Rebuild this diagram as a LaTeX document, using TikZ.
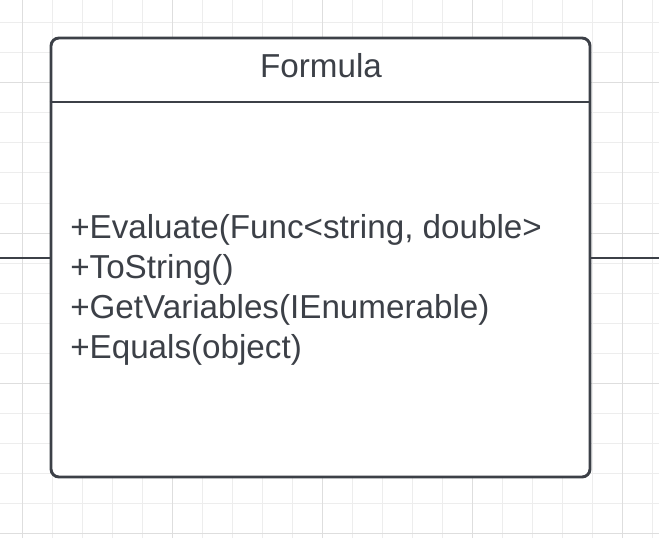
\documentclass[tikz,border=0pt]{standalone}
\usepackage{fontspec}
\setmainfont{Liberation Sans}
\usetikzlibrary{positioning}
\definecolor{umlgray}{HTML}{3C4047}
\definecolor{gridminor}{HTML}{EDEDED}
\definecolor{gridmajor}{HTML}{DEDEDE}

\begin{document}
\begin{tikzpicture}[x=0.75pt, y=-0.75pt,% styles used in image code
minor/.style = {draw=gridminor, line width=0.75pt},
major/.style = {draw=gridmajor, line width=0.75pt},
classbox/.style = {draw=umlgray, fill=white, line width=2.2pt,
                   rounded corners=6pt, inner sep=0pt,
                   minimum width=539*0.75pt, minimum height=439*0.75pt},
member/.style = {text=umlgray, align=left, inner sep=0pt,
                 font=\fontsize{24.9}{30}\selectfont},
link/.style = {draw=umlgray, line width=1.1pt}
                        ]
	\useasboundingbox (0,0) rectangle (659,538);
	% background grid
	\foreach \x in {22,52,...,652} \draw[minor] (\x,0) -- (\x,538);
	\foreach \y in {23,53,...,533} \draw[minor] (0,\y) -- (659,\y);
	\foreach \x in {22,172,...,622} \draw[major] (\x,0) -- (\x,538);
	\foreach \y in {83,233,383,533} \draw[major] (0,\y) -- (659,\y);

	% class
	\node[classbox] (formula) at (320.5,257.5) {};
	\node[member, anchor=base] (name) at (321,78) {Formula};
	\draw[draw=umlgray, line width=2.2pt] (formula.west |- 0,102) -- (formula.east |- 0,102);
	% base anchor sits on the last line
	\node[member, anchor=base west] (ops) at (70,358)
	   {+Evaluate(Func<string, double>\\ +ToString()\\ +GetVariables(IEnumerable)\\ +Equals(object)};

	% connectors
	\coordinate (lend) at (0,258);
	\coordinate (rend) at (659,258);
	\draw[link] (lend) -- (formula.west |- lend);
	\draw[link] (formula.east |- rend) -- (rend);
\end{tikzpicture}
\end{document}
